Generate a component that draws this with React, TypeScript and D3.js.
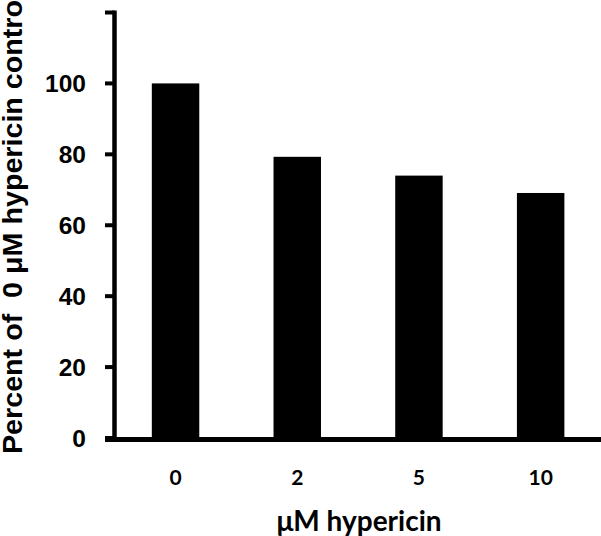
import React from "react";
import * as d3 from "d3";

const categories = ["0", "2", "5", "10"];
const values = [100, 79.3, 74.0, 69.1];
const yTicks = [0, 20, 40, 60, 80, 100];
const xTitle = "μM hypericin";
const yTitle = "Percent of  0 μM hypericin control";

export default function App() {
  const W = 601;
  const H = 536;
  const axisX = 114.5;
  const y = d3.scaleLinear().domain([0, 120]).range([438, 12.5]);
  const x = d3
    .scaleBand<string>()
    .domain(categories)
    .range([114.7, 601.5])
    .paddingInner(0.61)
    .paddingOuter(0.305);

  const arial = "Arial, 'Liberation Sans', sans-serif";
  const calib = "Lato, 'Open Sans', sans-serif";

  return (
    <svg
      width={W}
      height={H}
      style={{ position: "absolute", left: 0, top: 0, background: "#fff" }}
    >
      {categories.map((c, i) => (
        <rect
          key={c}
          x={x(c)}
          y={y(values[i])}
          width={x.bandwidth()}
          height={y(0) - y(values[i])}
          fill="#000"
        />
      ))}
      {/* y axis */}
      <line x1={axisX} x2={axisX} y1={y(120) - 2} y2={y(0) + 3} stroke="#000" strokeWidth={4.5} />
      {[...yTicks, 120].map((t) => (
        <line key={t} x1={105} x2={axisX} y1={y(t)} y2={y(t)} stroke="#000" strokeWidth={4} />
      ))}
      {yTicks.map((t) => (
        <text
          key={t}
          x={86}
          y={y(t)}
          dy="0.35em"
          textAnchor="end"
          fontFamily={arial}
          fontWeight="bold"
          fontSize={24.5}
          fill="#000"
        >
          {t}
        </text>
      ))}
      {/* x axis */}
      <line x1={105} x2={601} y1={439.5} y2={439.5} stroke="#000" strokeWidth={5} />
      {categories.map((c) => (
        <text
          key={c}
          x={(x(c) as number) + x.bandwidth() / 2}
          y={485}
          textAnchor="middle"
          fontFamily={calib}
          fontWeight="bold"
          fontSize={21}
          fill="#000"
        >
          {c}
        </text>
      ))}
      <text
        x={359}
        y={531}
        textAnchor="middle"
        fontFamily={calib}
        fontWeight="bold"
        fontSize={28}
        fill="#000"
      >
        {xTitle}
      </text>
      <text
        transform={`translate(22,454) rotate(-90)`}
        textAnchor="start"
        fontFamily={arial}
        fontWeight="bold"
        fontSize={27}
        textLength={462}
        lengthAdjust="spacingAndGlyphs"
        fill="#000"
        style={{ whiteSpace: "pre" }}
      >
        {yTitle}
      </text>
    </svg>
  );
}
